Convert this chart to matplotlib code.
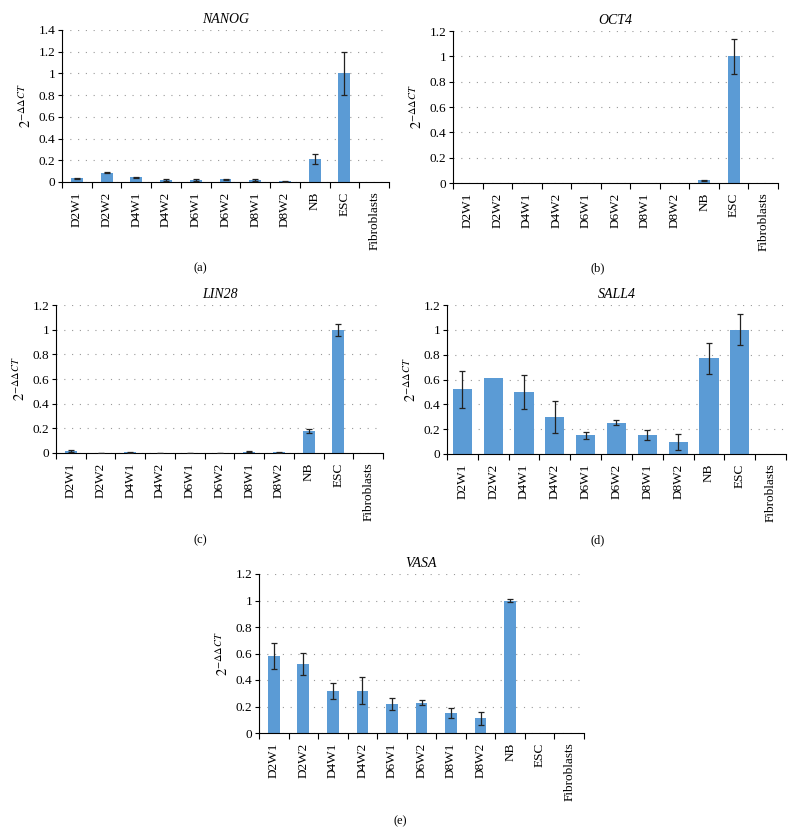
import numpy as np
import matplotlib.pyplot as plt

plt.rcParams["font.family"] = ["Liberation Serif", "DejaVu Serif"]
plt.rcParams["mathtext.fontset"] = "stix"

SAMPLES = ["D2W1", "D2W2", "D4W1", "D4W2", "D6W1", "D6W2",
           "D8W1", "D8W2", "NB", "ESC", "Fibroblasts"]

nanog = [0.035, 0.085, 0.045, 0.02, 0.018, 0.025, 0.018, 0.005, 0.21, 1.0, 0.0]
nanog_err = [0.005, 0.003, 0.005, 0.01, 0.01, 0.007, 0.012, 0.002, 0.045, 0.2, 0.0]

oct4 = [0.001, 0.002, 0.001, 0.001, 0.001, 0.001, 0.001, 0.001, 0.02, 1.0, 0.0]
oct4_err = [0.0, 0.0, 0.0, 0.0, 0.0, 0.0, 0.0, 0.0, 0.005, 0.14, 0.0]

lin28 = [0.018, 0.003, 0.006, 0.002, 0.002, 0.003, 0.01, 0.007, 0.18, 1.0, 0.0]
lin28_err = [0.008, 0.001, 0.003, 0.001, 0.001, 0.001, 0.004, 0.003, 0.015, 0.05, 0.0]

sall4 = [0.52, 0.61, 0.5, 0.3, 0.15, 0.25, 0.15, 0.1, 0.77, 1.0, 0.0]
sall4_err = [0.15, 0.0, 0.14, 0.13, 0.03, 0.02, 0.04, 0.065, 0.125, 0.125, 0.0]

vasa = [0.58, 0.52, 0.32, 0.32, 0.22, 0.23, 0.15, 0.11, 1.0, 0.0, 0.0]
vasa_err = [0.1, 0.085, 0.06, 0.1, 0.045, 0.02, 0.035, 0.05, 0.01, 0.0, 0.0]

BAR_COLOR = "#5b9bd5"
W, H = 794, 834


def panel(fig, box, gene, vals, errs, ymax, bar_width, letter, letter_xy):
    left, top, right, bottom = box
    ax = fig.add_axes([left / W, 1 - bottom / H, (right - left) / W, (bottom - top) / H])
    x = np.arange(len(SAMPLES))
    ax.bar(x, vals, width=bar_width, color=BAR_COLOR, zorder=2)
    e = np.array(errs)
    mask = e > 0
    ax.errorbar(x[mask], np.array(vals)[mask], yerr=e[mask], fmt="none",
                ecolor="#222222", elinewidth=0.9, capsize=2.5, capthick=0.9, zorder=3)
    ax.set_xlim(-0.5, len(SAMPLES) - 0.5)
    ax.set_ylim(0, ymax)
    yt = np.round(np.arange(0, ymax + 0.001, 0.2), 1)
    ax.set_yticks(yt)
    ax.set_yticklabels([f"{v:g}" for v in yt])
    ax.yaxis.grid(True, linestyle=(0, (1, 6)), color="#999999", linewidth=0.8)
    ax.set_axisbelow(True)
    ax.set_xticks(x)
    ax.set_xticklabels(SAMPLES, rotation=90)
    ax.set_xticks(np.arange(-0.5, len(SAMPLES)), minor=True)
    ax.tick_params(axis="x", which="major", length=0, labelsize=9.5, pad=7)
    ax.tick_params(axis="x", which="minor", length=4, width=0.8, direction="out")
    ax.tick_params(axis="y", length=3, width=0.8, labelsize=9.5, pad=2)
    for s in ["top", "right"]:
        ax.spines[s].set_visible(False)
    for s in ["left", "bottom"]:
        ax.spines[s].set_linewidth(0.8)
    ax.set_title(gene, style="italic", fontsize=10, pad=5)
    ax.set_ylabel(r"$2^{-\Delta\Delta CT}$", fontsize=10.5, labelpad=3)
    fig.text(letter_xy[0] / W, 1 - letter_xy[1] / H, letter,
             ha="center", va="center", fontsize=9)
    return ax


fig = plt.figure(figsize=(W / 100, H / 100), dpi=100)

panel(fig, (62, 30, 389, 182), "NANOG", nanog, nanog_err, 1.4, 0.4, "(a)", (200, 268))
panel(fig, (453, 31, 778, 183), "OCT4", oct4, oct4_err, 1.2, 0.4, "(b)", (598, 268))
panel(fig, (56, 305, 383, 453), "LIN28", lin28, lin28_err, 1.2, 0.4, "(c)", (200, 540))
panel(fig, (447, 305, 786, 454), "SALL4", sall4, sall4_err, 1.2, 0.62, "(d)", (598, 540))
panel(fig, (259, 574, 584, 733), "VASA", vasa, vasa_err, 1.2, 0.4, "(e)", (400, 821))

fig.savefig("out.png", dpi=100)
